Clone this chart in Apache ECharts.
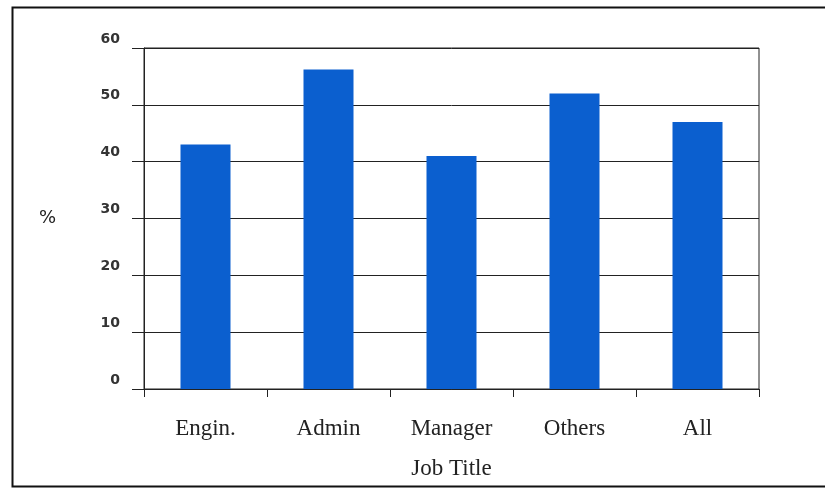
<!DOCTYPE html>
<html><head><meta charset="utf-8">
<script src="https://cdn.jsdelivr.net/npm/echarts@6/dist/echarts.min.js"></script>
<style>html,body{margin:0;padding:0;background:#fff}#c{width:825px;height:495px}</style>
</head><body><div id="c"></div>
<script>
const categories = ["Engin.", "Admin", "Manager", "Others", "All"];
const values = [43, 56.2, 41, 52, 47];
const yTicks = [0, 10, 20, 30, 40, 50, 60];
const xTitle = "Job Title";
const yTitle = "%";

const chart = echarts.init(document.getElementById('c'), null, {renderer: 'canvas'});
chart.setOption({
  backgroundColor: '#fff',
  animation: false,
  graphic: [{
    type: 'rect', z: 100,
    shape: {x: 12.5, y: 7.5, width: 830, height: 479},
    style: {fill: 'none', stroke: '#111', lineWidth: 2}
  }],
  grid: {left: 144, right: 66, top: 48, bottom: 106, show: true, borderColor: '#222', borderWidth: 1, backgroundColor: 'transparent'},
  xAxis: {
    type: 'category', data: categories,
    name: xTitle, nameLocation: 'middle', nameGap: 68,
    nameTextStyle: {fontFamily: 'Liberation Serif', fontSize: 23, color: '#222'},
    axisLine: {lineStyle: {color: '#222', width: 1}},
    axisTick: {show: true, alignWithLabel: false, length: 8, lineStyle: {color: '#222'}},
    axisLabel: {fontFamily: 'Liberation Serif', fontSize: 23, color: '#222', margin: 28}
  },
  yAxis: {
    type: 'value', min: 0, max: 60, interval: 10,
    name: yTitle, nameLocation: 'middle', nameGap: 88, nameRotate: 0,
    nameTextStyle: {fontFamily: 'DejaVu Sans', fontSize: 18, color: '#222'},
    axisLine: {show: true, lineStyle: {color: '#222', width: 1}},
    axisTick: {show: true, length: 12, lineStyle: {color: '#222'}},
    axisLabel: {fontFamily: 'DejaVu Sans', fontSize: 14, fontWeight: 'bold', color: '#333', margin: 24,
      verticalAlign: 'bottom', padding: [0, 0, 2, 0],
      formatter: v => yTicks.includes(v) ? String(v) : ''},
    splitLine: {show: true, lineStyle: {color: '#222', width: 1}}
  },
  series: [{
    type: 'bar', data: values, barWidth: 50,
    itemStyle: {color: '#0b5fcf'}
  }]
});
</script>
</body></html>
